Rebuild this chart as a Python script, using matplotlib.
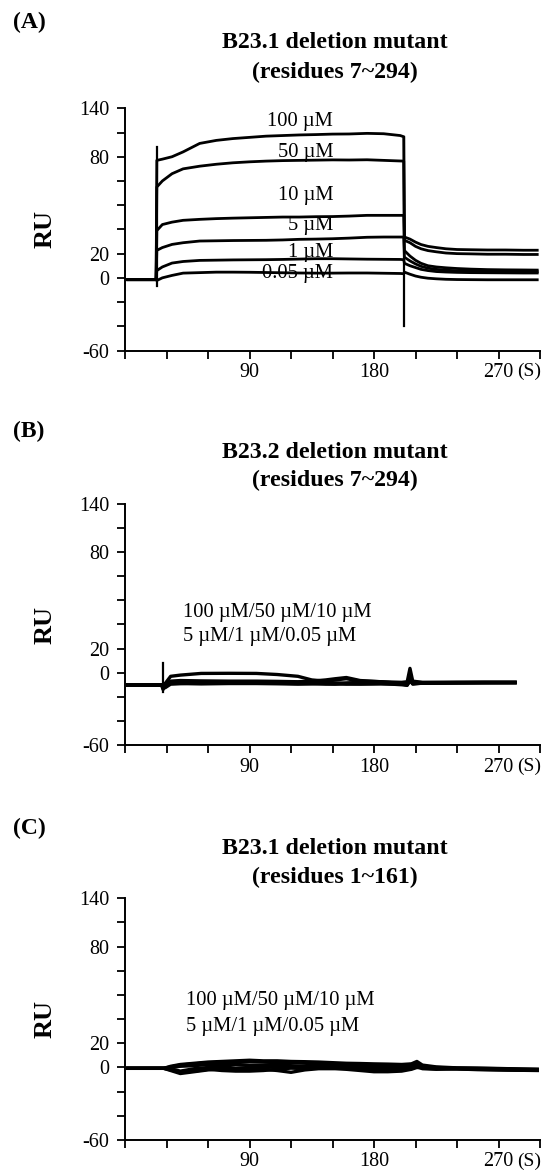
"""
SPR sensorgrams of B23 deletion mutants binding at several concentrations.
Three stacked panels (A, B, C), saved as out.png.
"""

import matplotlib
matplotlib.use("Agg")
import matplotlib.pyplot as plt
from matplotlib.ticker import FixedLocator, MultipleLocator

plt.rcParams["font.family"] = ["Liberation Serif", "DejaVu Serif"]

# ---- data (time in s, response in RU) ----
conc_labels = ["100 \u00b5M", "50 \u00b5M", "10 \u00b5M", "5 \u00b5M", "1 \u00b5M", "0.05 \u00b5M"]

# panel A: B23.1 deletion mutant (residues 7~294)
t_a = [2, 22.5, 23, 27, 34, 42, 54, 66, 78, 90, 102, 114, 126, 138, 150, 162, 175, 187,
       199, 201.5, 202, 206, 210, 214, 219, 225, 232, 240, 250, 262, 275, 288, 298]
ru_a_100 = [-1.5, -1.5, 97, 98, 100, 104, 111, 113.5, 115, 116, 117, 117.5, 118, 118.3,
            118.7, 118.8, 119.3, 119, 117.5, 116.5,
            33.7, 32, 29.5, 27.5, 26, 25, 24, 23.4, 23.2, 23, 23, 22.8, 22.8]
ru_a_50 = [-1.5, -1.5, 75, 80, 86, 90, 92.2, 93.8, 95, 95.8, 96.4, 96.8, 97, 97.2,
           97.4, 97.3, 97.5, 97, 96.5, 96.4,
           31, 29, 26, 24, 22.5, 21.5, 20.5, 20, 19.8, 19.5, 19.5, 19.3, 19.3]
ru_a_10 = [-1.5, -1.5, 39, 44, 46, 47.5, 48.3, 48.9, 49.3, 49.6, 49.9, 50.2, 50.2, 50.5,
           50.6, 51, 51.6, 51.6, 51.6, 51.6,
           22.5, 18, 14.5, 12, 10, 9, 8.3, 7.7, 7.2, 6.8, 6.6, 6.5, 6.4]
ru_a_5 = [-1.5, -1.5, 22.7, 25, 27.6, 29, 30.4, 30.6, 30.8, 30.9, 31, 31.3, 31.8, 32,
          32.3, 32.8, 33.5, 33.7, 33.7, 33.7,
          17, 14, 11.5, 9.5, 8, 7, 6.3, 5.8, 5.5, 5.3, 5.2, 5.1, 5]
ru_a_1 = [-1.5, -1.5, 6, 9, 12.2, 13.5, 14.4, 14.6, 14.8, 14.9, 15, 15.2, 15.5, 15.8,
          15.8, 15.6, 15.4, 15.3, 15.2, 15,
          12, 10, 8.5, 7, 6, 5.2, 4.8, 4.5, 4.3, 4.2, 4.1, 4, 4]
ru_a_005 = [-1.5, -1.5, -2.2, 0, 2, 3.9, 4.3, 4.7, 4.7, 4.6, 4.4, 4.2, 4, 3.9,
            3.9, 4, 4, 3.8, 3.6, 3.4,
            4.7, 3, 1.5, 0.5, -0.3, -0.8, -1.2, -1.4, -1.5, -1.6, -1.6, -1.6, -1.6]
# injection / wash artefacts
spike_a_t = [[22.9, 22.9], [202, 202]]
spike_a_ru = [[-7.1, 107.7], [-39.4, 116.5]]

# panel B: B23.2 deletion mutant (residues 7~294)
t_b = [2, 26.5, 27.5, 29, 33, 40, 55, 75, 95, 110, 125, 135, 145, 152, 160, 170, 185,
       200, 204, 206, 208, 215, 240, 260, 282]
ru_b_100 = [-10.2, -10.2, -12, -9, -3, -2, -0.6, -0.5, -0.6, -1.5, -3, -6, -7, -6, -5,
            -7, -7.5, -8, -7.5, 3.6, -7, -8, -8, -8, -8]
ru_b_50 = [-10.2, -10.2, -14, -10, -7, -6.5, -6.8, -7, -7, -7.2, -7.5, -7, -6, -5, -4,
           -6.5, -7.5, -9, -9, -2, -8, -8.2, -8, -8, -8]
ru_b_10 = [-10.2, -10.2, -13, -11, -8.5, -8, -7.5, -7.5, -8, -8, -8.5, -8.5, -8, -8.5, -9,
           -8.5, -8, -9.5, -10, -5, -9, -8.5, -8.3, -8.2, -8.2]
ru_b_5 = [-10.2, -10.2, -12, -12.5, -9.5, -9, -8.5, -8.2, -8.5, -8.7, -9, -9, -9.5, -9.5, -9,
          -9.2, -9, -10, -10.5, -6, -9.5, -8.6, -8.5, -8.3, -8.3]
ru_b_1 = [-10.2, -10.2, -11, -10, -8, -7.5, -8, -8.3, -7.8, -8, -8, -8.2, -8.8, -9, -8.5,
          -8, -8.5, -9, -9.5, -4, -8.5, -8.4, -8.2, -8, -8]
ru_b_005 = [-10.2, -10.2, -10.5, -9.5, -9, -9, -9.3, -9, -9, -9.2, -9.5, -9.3, -9, -9.2, -9.5,
            -9.5, -9.3, -9.5, -10, -7, -9, -8.8, -8.5, -8.5, -8.4]
spike_b_t = [[27.2, 27.2]]
spike_b_ru = [[-15.8, 7.8]]

# panel C: B23.1 deletion mutant (residues 1~161)
t_c = [2, 28, 33, 40, 50, 60, 70, 80, 90, 100, 110, 120, 130, 140, 150, 160, 170, 180,
       190, 200, 207, 211, 215, 225, 240, 255, 270, 285, 298]
ru_c_100 = [-0.7, -0.7, 1, 2.5, 3.5, 4.5, 5, 5.5, 6, 5.5, 5.5, 5, 4.8, 4.5, 4, 3.5, 3.3, 3,
            2.8, 2.5, 3, 5, 2, 0.5, -0.3, -0.5, -0.8, -1.2, -1.5]
ru_c_50 = [-0.7, -0.7, 0.5, 2, 3, 4, 4.2, 4.5, 5, 4.5, 4, 4, 3.5, 3, 3, 2.5, 2, 2,
           1.8, 1.8, 2.5, 3.5, 1, 0, -0.5, -0.7, -1, -1.3, -1.5]
ru_c_10 = [-0.7, -0.7, 0, 1, 1.5, 2.5, 2.5, 2.5, 2, 2, 2.5, 1.5, 1, 1.5, 2, 1.8, 1.2, 1,
           1, 1, 1.5, 2.5, 0.5, -0.5, -0.8, -1, -1.5, -1.8, -2]
ru_c_5 = [-0.7, -0.7, -2, -4, -3, -1.5, -2.5, -3, -3, -2.5, -1.5, -0.5, -1, -0.5, -0.5, -1.5,
          -2.5, -3.5, -3.5, -3, -1.5, 0, -0.5, -1, -1, -1.5, -2, -2.3, -2.5]
ru_c_1 = [-0.7, -0.7, -2.5, -5, -3.5, -2, -1, -1.5, -2, -1.5, -2.5, -4, -2, -1, -1, -1,
          -1.5, -1.5, -2, -1.5, -1, 1, -1, -1.5, -1.2, -1.8, -2, -2.2, -2.3]
ru_c_005 = [-0.7, -0.7, -1, -3, -1, 0, 0.5, -0.5, 0, 0, 0.5, 0, 0.5, 0, 0.2, 0, -0.2, 0,
            -0.5, -0.5, 0, 1.5, 0, -0.5, -1, -1.3, -1.5, -1.8, -2]

# axis ticks as printed in the figure
ytick_pos = [-60, 0, 20, 100, 140]
ytick_labels = ["-60", "0", "20", "80", "140"]
xtick_pos = [90, 180, 270]
xtick_labels = ["90", "180", "270"]

panel_letters = ["(A)", "(B)", "(C)"]
panel_titles = [("B23.1 deletion mutant", "(residues 7~294)"),
                ("B23.2 deletion mutant", "(residues 7~294)"),
                ("B23.1 deletion mutant", "(residues 1~161)")]

# ---- layout (pixels) ----
W, H = 550, 1171
fig = plt.figure(figsize=(W / 100, H / 100), dpi=100)


def ftext(x, y, s, **kw):
    fig.text(x / W, 1 - y / H, s, **kw)


def make_axes(top, bottom):
    ax = fig.add_axes([125 / W, 1 - bottom / H, 415 / W, (bottom - top) / H])
    ax.set_xlim(0, 300)
    ax.set_ylim(-60, 140)
    ax.spines[["top", "right"]].set_visible(False)
    ax.spines[["left", "bottom"]].set_linewidth(1.4)
    ax.yaxis.set_major_locator(FixedLocator(ytick_pos))
    ax.set_yticklabels(ytick_labels)
    ax.yaxis.set_minor_locator(MultipleLocator(20))
    ax.xaxis.set_major_locator(FixedLocator(xtick_pos))
    ax.set_xticklabels(xtick_labels)
    ax.xaxis.set_minor_locator(MultipleLocator(30))
    ax.tick_params(which="both", direction="out", length=5.5, width=1.3, labelsize=14.5)
    ax.tick_params(axis="y", pad=6)
    ax.tick_params(axis="x", pad=3.5)
    ax.annotate("(S)", xy=(1, 0), xycoords="axes fraction", xytext=(1, -9),
                textcoords="offset points", ha="right", va="top", fontsize=14)
    return ax


panel_px = [(108.3, 350.5), (504, 745), (898.3, 1140)]
letter_y = [22, 431.5, 828.5]
title_y = [(43, 72), (452.5, 480.5), (848.5, 877)]

axes = [make_axes(top, bottom) for top, bottom in panel_px]

for i, ax in enumerate(axes):
    ftext(13, letter_y[i], panel_letters[i], fontsize=17, fontweight="bold",
          ha="left", va="center")
    ftext(335, title_y[i][0], panel_titles[i][0], fontsize=17.2, fontweight="bold",
          ha="center", va="center")
    ftext(335, title_y[i][1], panel_titles[i][1], fontsize=17.2, fontweight="bold",
          ha="center", va="center")
    top, bottom = panel_px[i]
    ftext(45, (top + bottom) / 2, "RU", fontsize=19, fontweight="bold",
          rotation=90, ha="center", va="center")

lw = 2.0

# panel A
ax = axes[0]
for ru in [ru_a_100, ru_a_50, ru_a_10, ru_a_5, ru_a_1, ru_a_005]:
    ax.plot(t_a, ru, color="black", lw=lw, solid_joinstyle="round")
for ts, rs in zip(spike_a_t, spike_a_ru):
    ax.plot(ts, rs, color="black", lw=1.6)
label_y_a = [128.7, 103.2, 68.2, 43.4, 21.2, 3.9]
for lab, y in zip(conc_labels, label_y_a):
    ax.text(150.5, y, lab, fontsize=14.8, ha="right", va="center")

# panel B
ax = axes[1]
for ru in [ru_b_100, ru_b_50, ru_b_10, ru_b_5, ru_b_1, ru_b_005]:
    ax.plot(t_b, ru, color="black", lw=lw + 0.4, solid_joinstyle="round")
for ts, rs in zip(spike_b_t, spike_b_ru):
    ax.plot(ts, rs, color="black", lw=1.6)
ax.text(42, 49.8, "/".join(conc_labels[:3]), fontsize=14.8, ha="left", va="center")
ax.text(42, 29.9, "/".join(conc_labels[3:]), fontsize=14.8, ha="left", va="center")

# panel C
ax = axes[2]
for ru in [ru_c_100, ru_c_50, ru_c_10, ru_c_5, ru_c_1, ru_c_005]:
    ax.plot(t_c, ru, color="black", lw=lw + 0.4, solid_joinstyle="round")
ax.text(44, 55.8, "/".join(conc_labels[:3]), fontsize=14.8, ha="left", va="center")
ax.text(44, 34.3, "/".join(conc_labels[3:]), fontsize=14.8, ha="left", va="center")

fig.savefig("out.png", dpi=100)
